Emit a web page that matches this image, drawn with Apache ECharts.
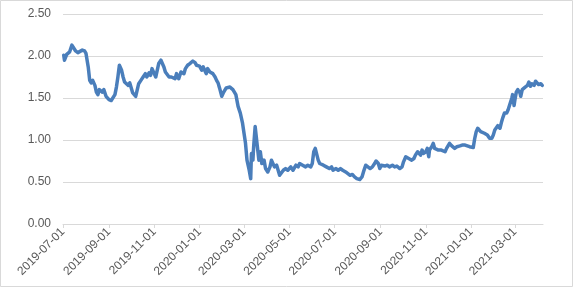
<!DOCTYPE html>
<html>
<head>
<meta charset="utf-8">
<script src="https://cdn.jsdelivr.net/npm/echarts@6/dist/echarts.min.js"></script>
<style>html,body{margin:0;padding:0;background:#fff}#c{width:576px;height:288px}</style>
</head>
<body>
<div id="c"></div>
<script>
var startDate = '2019-07-01';
var endDate = '2021-04-08';
var tickLabels = ['2019-07-01','2019-09-01','2019-11-01','2020-01-01','2020-03-01','2020-05-01','2020-07-01','2020-09-01','2020-11-01','2021-01-01','2021-03-01'];
var yTicks = [0, 0.5, 1, 1.5, 2, 2.5];

var dates = [
'2019-07-02','2019-07-03','2019-07-06','2019-07-10','2019-07-13','2019-07-15','2019-07-18','2019-07-21','2019-07-23','2019-07-27','2019-07-30',
'2019-08-01','2019-08-04','2019-08-06','2019-08-08','2019-08-10','2019-08-13','2019-08-15','2019-08-17','2019-08-19','2019-08-23','2019-08-25','2019-08-28',
'2019-09-01','2019-09-04','2019-09-06','2019-09-09','2019-09-11','2019-09-13','2019-09-15','2019-09-18','2019-09-20','2019-09-22','2019-09-24','2019-09-27','2019-09-29',
'2019-10-01','2019-10-03','2019-10-07','2019-10-09','2019-10-11','2019-10-14','2019-10-17','2019-10-20','2019-10-22','2019-10-25','2019-10-27','2019-10-29',
'2019-11-01','2019-11-03','2019-11-05','2019-11-07','2019-11-10','2019-11-12','2019-11-14','2019-11-16','2019-11-18','2019-11-21','2019-11-24','2019-11-26','2019-11-29',
'2019-12-01','2019-12-03','2019-12-04','2019-12-07','2019-12-09','2019-12-11','2019-12-13','2019-12-16','2019-12-19','2019-12-21','2019-12-23','2019-12-26','2019-12-28','2019-12-30',
'2020-01-01','2020-01-04','2020-01-06','2020-01-08','2020-01-10','2020-01-12','2020-01-15','2020-01-17','2020-01-19','2020-01-22','2020-01-24','2020-01-26','2020-01-28','2020-01-31',
'2020-02-02','2020-02-06','2020-02-11','2020-02-15','2020-02-19','2020-02-22','2020-02-25','2020-02-28',
'2020-03-01','2020-03-03','2020-03-05','2020-03-08','2020-03-10','2020-03-11','2020-03-13','2020-03-14','2020-03-16','2020-03-18','2020-03-19','2020-03-21','2020-03-23','2020-03-25','2020-03-28','2020-03-30',
'2020-04-02','2020-04-05','2020-04-07','2020-04-09','2020-04-11','2020-04-14','2020-04-16','2020-04-18','2020-04-20','2020-04-23','2020-04-26','2020-04-29',
'2020-05-03','2020-05-06','2020-05-10','2020-05-13','2020-05-15','2020-05-19','2020-05-21','2020-05-23','2020-05-26','2020-05-30',
'2020-06-01','2020-06-03','2020-06-05','2020-06-07','2020-06-09','2020-06-11','2020-06-13','2020-06-16','2020-06-20','2020-06-24','2020-06-27','2020-06-29',
'2020-07-03','2020-07-06','2020-07-09','2020-07-12','2020-07-16','2020-07-19','2020-07-22','2020-07-25','2020-07-28','2020-07-31',
'2020-08-04','2020-08-07','2020-08-09','2020-08-12','2020-08-15','2020-08-18','2020-08-21','2020-08-24','2020-08-26','2020-08-29','2020-08-31',
'2020-09-02','2020-09-04','2020-09-07','2020-09-10','2020-09-13','2020-09-17','2020-09-20','2020-09-23','2020-09-27','2020-09-30',
'2020-10-02','2020-10-05','2020-10-07','2020-10-09','2020-10-13','2020-10-16','2020-10-18','2020-10-21','2020-10-23','2020-10-25','2020-10-27','2020-10-29',
'2020-11-01','2020-11-03','2020-11-05','2020-11-06','2020-11-09','2020-11-11','2020-11-13','2020-11-15','2020-11-18','2020-11-20','2020-11-22','2020-11-24','2020-11-27','2020-11-29',
'2020-12-01','2020-12-03','2020-12-06','2020-12-08','2020-12-10','2020-12-13','2020-12-17','2020-12-20','2020-12-24','2020-12-26','2020-12-30',
'2021-01-04','2021-01-06','2021-01-08','2021-01-10','2021-01-14','2021-01-16','2021-01-19','2021-01-23','2021-01-26','2021-01-29','2021-01-31',
'2021-02-02','2021-02-04','2021-02-06','2021-02-09','2021-02-11','2021-02-13','2021-02-15','2021-02-18','2021-02-20','2021-02-22','2021-02-25','2021-02-26','2021-02-28',
'2021-03-01','2021-03-03','2021-03-05','2021-03-08','2021-03-09','2021-03-11','2021-03-13','2021-03-15','2021-03-18','2021-03-20','2021-03-22','2021-03-24','2021-03-27','2021-03-29','2021-03-31',
'2021-04-02','2021-04-05','2021-04-07'
];
var values = [
2.01,1.95,2.02,2.05,2.13,2.11,2.06,2.04,2.06,2.07,2.06,
2.03,1.87,1.71,1.68,1.71,1.65,1.57,1.54,1.60,1.57,1.60,1.52,
1.48,1.47,1.45,1.54,1.63,1.75,1.89,1.83,1.75,1.69,1.71,1.65,1.68,
1.62,1.56,1.52,1.52,1.67,1.71,1.75,1.79,1.75,1.80,1.77,1.85,
1.79,1.75,1.83,1.91,1.95,1.93,1.87,1.81,1.79,1.75,1.75,1.76,1.73,
1.79,1.81,1.73,1.81,1.83,1.79,1.85,1.89,1.91,1.93,1.94,1.92,1.89,1.91,
1.88,1.83,1.87,1.83,1.79,1.85,1.81,1.79,1.79,1.75,1.71,1.68,1.62,1.52,
1.56,1.62,1.63,1.60,1.54,1.40,1.32,1.20,
1.08,0.96,0.76,0.64,0.54,0.84,0.76,0.92,1.16,1.17,0.92,0.76,0.86,0.72,0.76,0.66,
0.62,0.68,0.76,0.78,0.68,0.70,0.64,0.58,0.58,0.64,0.66,0.64,
0.68,0.64,0.70,0.68,0.72,0.70,0.72,0.68,0.70,0.68,
0.72,0.86,0.90,0.88,0.76,0.72,0.74,0.70,0.68,0.66,0.68,0.64,
0.66,0.64,0.66,0.64,0.62,0.60,0.58,0.59,0.56,0.54,
0.53,0.56,0.62,0.70,0.68,0.66,0.68,0.72,0.75,0.72,0.66,
0.70,0.68,0.69,0.70,0.68,0.70,0.68,0.69,0.66,0.68,
0.74,0.80,0.82,0.78,0.76,0.78,0.82,0.86,0.84,0.82,0.88,0.84,
0.86,0.90,0.80,0.88,0.92,0.96,0.90,0.92,0.88,0.90,0.88,0.90,0.86,0.90,
0.92,0.96,0.93,0.91,0.90,0.92,0.93,0.94,0.94,0.93,0.92,
0.91,1.02,1.10,1.14,1.10,1.12,1.08,1.06,1.02,1.02,1.06,
1.12,1.14,1.17,1.14,1.21,1.27,1.32,1.32,1.36,1.38,1.50,1.54,1.41,
1.47,1.57,1.60,1.56,1.52,1.60,1.62,1.63,1.65,1.69,1.64,1.67,1.65,1.70,1.69,
1.66,1.67,1.65
];

// build calendar-day categories for the axis
function pad(n){return n<10?'0'+n:''+n;}
var categories = [];
(function(){
  var d = new Date(startDate + 'T00:00:00Z');
  var e = new Date(endDate + 'T00:00:00Z');
  while (d <= e) {
    categories.push(d.getUTCFullYear()+'-'+pad(d.getUTCMonth()+1)+'-'+pad(d.getUTCDate()));
    d = new Date(d.getTime() + 86400000);
  }
})();
var valueByDate = {};
dates.forEach(function(dt,i){ valueByDate[dt] = values[i]; });
var seriesData = categories.map(function(c){ return valueByDate.hasOwnProperty(c) ? valueByDate[c] : null; });
var tickSet = {};
tickLabels.forEach(function(t){ tickSet[t] = true; });
function isTick(idx, val){ return !!tickSet[val]; }

var chart = echarts.init(document.getElementById('c'), null, {renderer:'canvas'});
chart.setOption({
  animation: false,
  backgroundColor: '#ffffff',
  graphic: [{
    type: 'rect', silent: true, z: -1,
    shape: {x: 0.5, y: 0.5, width: 572, height: 286},
    style: {fill: 'none', stroke: '#d9d9d9', lineWidth: 1}
  }],
  grid: {left: 63, right: 33, top: 14, bottom: 64, containLabel: false},
  xAxis: {
    type: 'category',
    data: categories,
    boundaryGap: false,
    axisLine: {show: true, lineStyle: {color: '#d9d9d9', width: 1}},
    axisTick: {show: true, interval: isTick, length: 4, lineStyle: {color: '#d9d9d9'}},
    axisLabel: {
      interval: isTick, rotate: 45, margin: 6,
      color: '#595959', fontSize: 12, fontFamily: 'Liberation Sans, Arial, sans-serif'
    },
    splitLine: {show: false}
  },
  yAxis: {
    type: 'value',
    min: yTicks[0], max: yTicks[yTicks.length-1], interval: 0.5,
    axisLine: {show: false},
    axisTick: {show: false},
    axisLabel: {
      margin: 12, color: '#595959', fontSize: 12, fontFamily: 'Liberation Sans, Arial, sans-serif',
      formatter: function(v){ return v.toFixed(2); }
    },
    splitLine: {lineStyle: {color: '#d9d9d9', width: 1}}
  },
  series: [{
    type: 'line',
    data: seriesData,
    connectNulls: true,
    showSymbol: false,
    symbol: 'none',
    lineStyle: {color: '#4a7ebb', width: 3.5, join: 'round', cap: 'round'},
    itemStyle: {color: '#4a7ebb'}
  }]
});
</script>
</body>
</html>
